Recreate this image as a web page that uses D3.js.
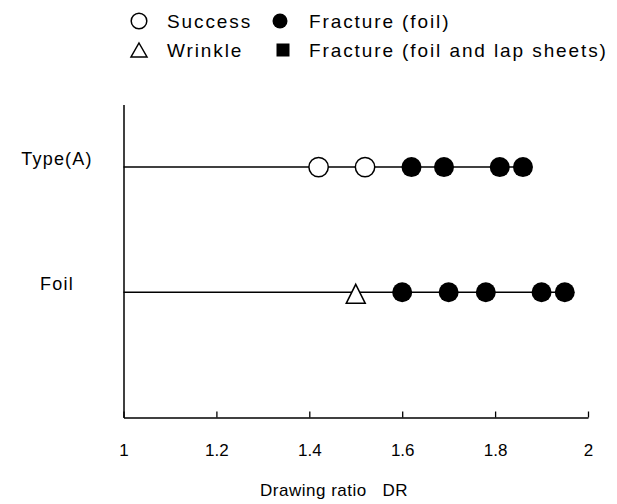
<!DOCTYPE html>
<html>
<head>
<meta charset="utf-8">
<script src="https://cdn.jsdelivr.net/npm/d3@7"></script>
<style>
  body { margin: 0; background: #fff; }
  svg { display: block; }
  text { font-family: "Liberation Sans", Arial, sans-serif; fill: #000; }
</style>
</head>
<body>
<svg id="chart" width="617" height="504"></svg>
<script>
// rows on the y axis
var categories = ["Type(A)", "Foil"];

// drawing ratio of each trial
var typeA_dr = [1.42, 1.52, 1.62, 1.69, 1.81, 1.86];
var typeA_result = ["success", "success", "fracture", "fracture", "fracture", "fracture"];
var foil_dr = [1.50, 1.60, 1.70, 1.78, 1.90, 1.95];
var foil_result = ["wrinkle", "fracture", "fracture", "fracture", "fracture", "fracture"];

var xTicks = [1, 1.2, 1.4, 1.6, 1.8, 2];
var xTickLabels = ["1", "1.2", "1.4", "1.6", "1.8", "2"];

var legendKeys = ["success", "fracture", "wrinkle", "lap"];
var legendLabels = ["Success", "Fracture (foil)", "Wrinkle", "Fracture (foil and lap sheets)"];

var svg = d3.select("#chart");

var x = d3.scaleLinear().domain([1, 2]).range([123.5, 588]);
var y = d3.scaleLinear().domain([-0.5, 2]).range([104.5, 417.5]);

// x axis, ticks pointing up
svg.append("g")
    .attr("transform", "translate(0," + y(2) + ")")
    .call(d3.axisBottom(x)
        .tickValues(xTicks)
        .tickFormat(function (d, i) { return xTickLabels[i]; })
        .tickSizeInner(-6)
        .tickSizeOuter(0)
        .tickPadding(26))
    .call(function (g) {
        g.select(".domain").attr("stroke-width", 1.5);
        g.selectAll(".tick line").attr("stroke-width", 1.3);
        g.selectAll("text").attr("font-size", 17).attr("font-family", null).attr("fill", "#000");
    });

// y axis, plain line
svg.append("g")
    .attr("transform", "translate(" + x(1) + ",0)")
    .call(d3.axisLeft(y).tickValues([]).tickSizeOuter(0))
    .call(function (g) { g.select(".domain").attr("stroke-width", 1.5); });

svg.append("text")
    .attr("x", 334)
    .attr("y", 496)
    .attr("text-anchor", "middle")
    .attr("font-size", 17)
    .attr("letter-spacing", 0.5)
    .style("white-space", "pre")
    .text("Drawing ratio   DR");

// row labels
svg.selectAll(".row-label")
    .data(categories)
    .enter().append("text")
    .attr("class", "row-label")
    .attr("x", 57)
    .attr("y", function (d, i) { return y(i) - 2; })
    .attr("text-anchor", "middle")
    .attr("font-size", 18)
    .attr("letter-spacing", 1.2)
    .text(function (d) { return d; });

var rows = [
    { dr: typeA_dr, result: typeA_result },
    { dr: foil_dr, result: foil_result }
];

// row lines from axis to last point
svg.selectAll(".row-line")
    .data(rows)
    .enter().append("line")
    .attr("class", "row-line")
    .attr("x1", x(1))
    .attr("x2", function (d) { return x(d3.max(d.dr)); })
    .attr("y1", function (d, i) { return y(i); })
    .attr("y2", function (d, i) { return y(i); })
    .attr("stroke", "#000")
    .attr("stroke-width", 1.5);

function triangle(w, h) {
    return "M0," + (-h / 2) + "L" + (w / 2) + "," + (h / 2) + "L" + (-w / 2) + "," + (h / 2) + "Z";
}

function drawMarker(g, kind, big) {
    var r = big ? 9.7 : 7.8;
    if (kind === "success") {
        g.append("circle").attr("r", r).attr("fill", "#fff").attr("stroke", "#000").attr("stroke-width", 1.5);
    } else if (kind === "fracture") {
        g.append("circle").attr("r", big ? 10 : 7.5).attr("fill", "#000");
    } else if (kind === "wrinkle") {
        g.append("path")
            .attr("d", big ? triangle(19, 19) : triangle(16, 14))
            .attr("transform", big ? "translate(0,1.5)" : null)
            .attr("fill", "#fff").attr("stroke", "#000").attr("stroke-width", 1.5);
    } else {
        g.append("rect").attr("x", -6.5).attr("y", -6.5).attr("width", 13).attr("height", 13).attr("fill", "#000");
    }
}

rows.forEach(function (row, i) {
    svg.append("g").selectAll("g")
        .data(row.dr)
        .enter().append("g")
        .attr("transform", function (d) { return "translate(" + x(d) + "," + y(i) + ")"; })
        .each(function (d, j) { drawMarker(d3.select(this), row.result[j], true); });
});

// legend, two rows of two
var legendPos = [[139, 21], [280, 21], [139, 50], [283, 50]];
var legendTextX = [167, 309, 167, 309];

var legend = svg.append("g").selectAll("g")
    .data(legendKeys)
    .enter().append("g");

legend.append("g")
    .attr("transform", function (d, i) { return "translate(" + legendPos[i][0] + "," + legendPos[i][1] + ")"; })
    .each(function (d) { drawMarker(d3.select(this), d, false); });

legend.append("text")
    .attr("x", function (d, i) { return legendTextX[i]; })
    .attr("y", function (d, i) { return legendPos[i][1] + 7; })
    .attr("font-size", 19)
    .attr("letter-spacing", 1.9)
    .text(function (d, i) { return legendLabels[i]; });
</script>
</body>
</html>
